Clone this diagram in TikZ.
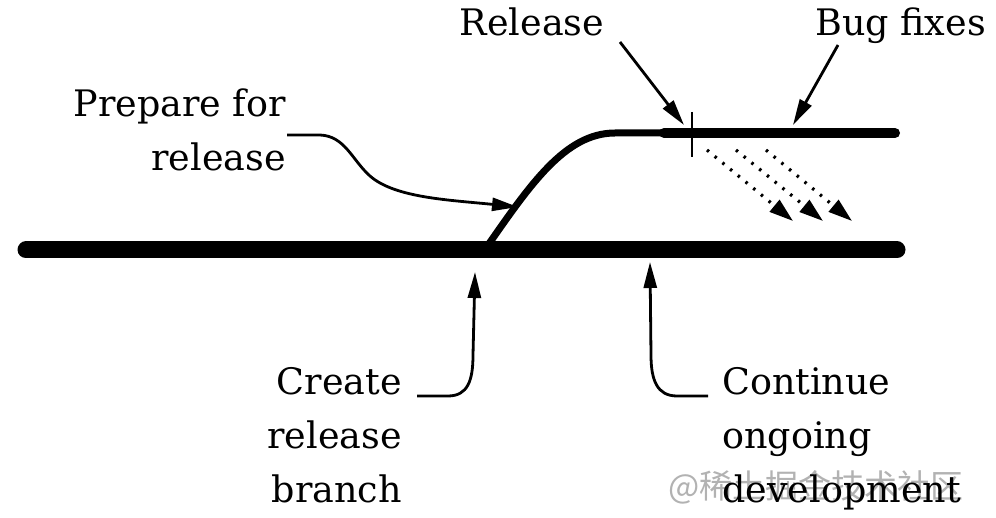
\documentclass[tikz,border=0pt]{standalone}
\usepackage{fontspec}
\setmainfont{DejaVu Serif}
\newfontfamily\cjkfont{Noto Sans CJK SC}
\usetikzlibrary{arrows.meta}
\begin{document}
\begin{tikzpicture}[x=1pt,y=-1pt,
  lbl/.style={inner sep=0pt, font=\fontsize{36.5}{54}\selectfont},
  callout/.style={line width=2.8pt, -{Triangle[length=26pt,width=13pt]}},
  bugfix/.style={line width=3.2pt, dash pattern=on 2.5pt off 7.5pt, -{Triangle[length=24pt,width=15pt]}},
  trunk/.style={line width=17pt, line cap=round},
  relbranch/.style={line width=10pt, line cap=round},
  branchcurve/.style={line width=7pt}
]
\useasboundingbox (0,0) rectangle (996,518);
% lines
\coordinate (tL) at (26,250);
\coordinate (tR) at (897,250);
\coordinate (bS) at (486,248);
\coordinate (bT) at (615,133);
\coordinate (bM) at (664,133);
\coordinate (bR) at (895,133);
\draw[trunk] (tL) -- (tR);
\draw[branchcurve] (bS) .. controls (530,185) and (565,133) .. (bT) -- (bM);
\draw[relbranch] (bM) -- (bR);
% release tick
\coordinate (tk1) at (692,112);
\coordinate (tk2) at (692,157);
\draw[line width=2.5pt] (tk1) -- (tk2);
% watermark
\node[inner sep=0pt, anchor=west, text=black!30, font=\cjkfont\fontsize{33}{33}\selectfont] (wm) at (668,487) {@稀土掘金技术社区};
% labels
\node[lbl, anchor=base] (rel) at (532,36) {Release};
\node[lbl, anchor=base east] (bug) at (986,36) {Bug fixes};
\node[lbl, anchor=base east, align=right] (prep) at (286,171) {Prepare for\\release};
\node[lbl, anchor=base east, align=right] (create) at (402,502) {Create\\release\\branch};
\node[lbl, anchor=base west, align=left] (cont) at (722,502) {Continue\\ongoing\\development};
% callouts
\coordinate (relTail) at (620,42);
\coordinate (relTip) at (684,125);
\coordinate (bugTail) at (838,45);
\coordinate (bugTip) at (793,125);
\coordinate (prepTail) at (287,135);
\coordinate (prepTip) at (518,207);
\coordinate (crTail) at (417,396);
\coordinate (crTip) at (475,272);
\coordinate (coTail) at (708,396);
\coordinate (coTip) at (650,262);
\draw[callout] (relTail) -- (relTip);
\draw[callout] (bugTail) -- (bugTip);
\draw[callout] (prepTail) -- (320,135) .. controls (345,136) and (352,160) .. (370,176) .. controls (395,198) and (450,200) .. (prepTip);
\draw[callout] (crTail) -- (448,396) .. controls (468,396) and (473,380) .. (473,355) -- (crTip);
\draw[callout] (coTail) -- (677,396) .. controls (657,396) and (651,380) .. (651,355) -- (coTip);
% bug-fix merges
\coordinate (m1s) at (707,150); \coordinate (m1e) at (793,221);
\coordinate (m2s) at (736,150); \coordinate (m2e) at (823,221);
\coordinate (m3s) at (766,150); \coordinate (m3e) at (852,221);
\draw[bugfix] (m1s) -- (m1e);
\draw[bugfix] (m2s) -- (m2e);
\draw[bugfix] (m3s) -- (m3e);
\end{tikzpicture}
\end{document}
